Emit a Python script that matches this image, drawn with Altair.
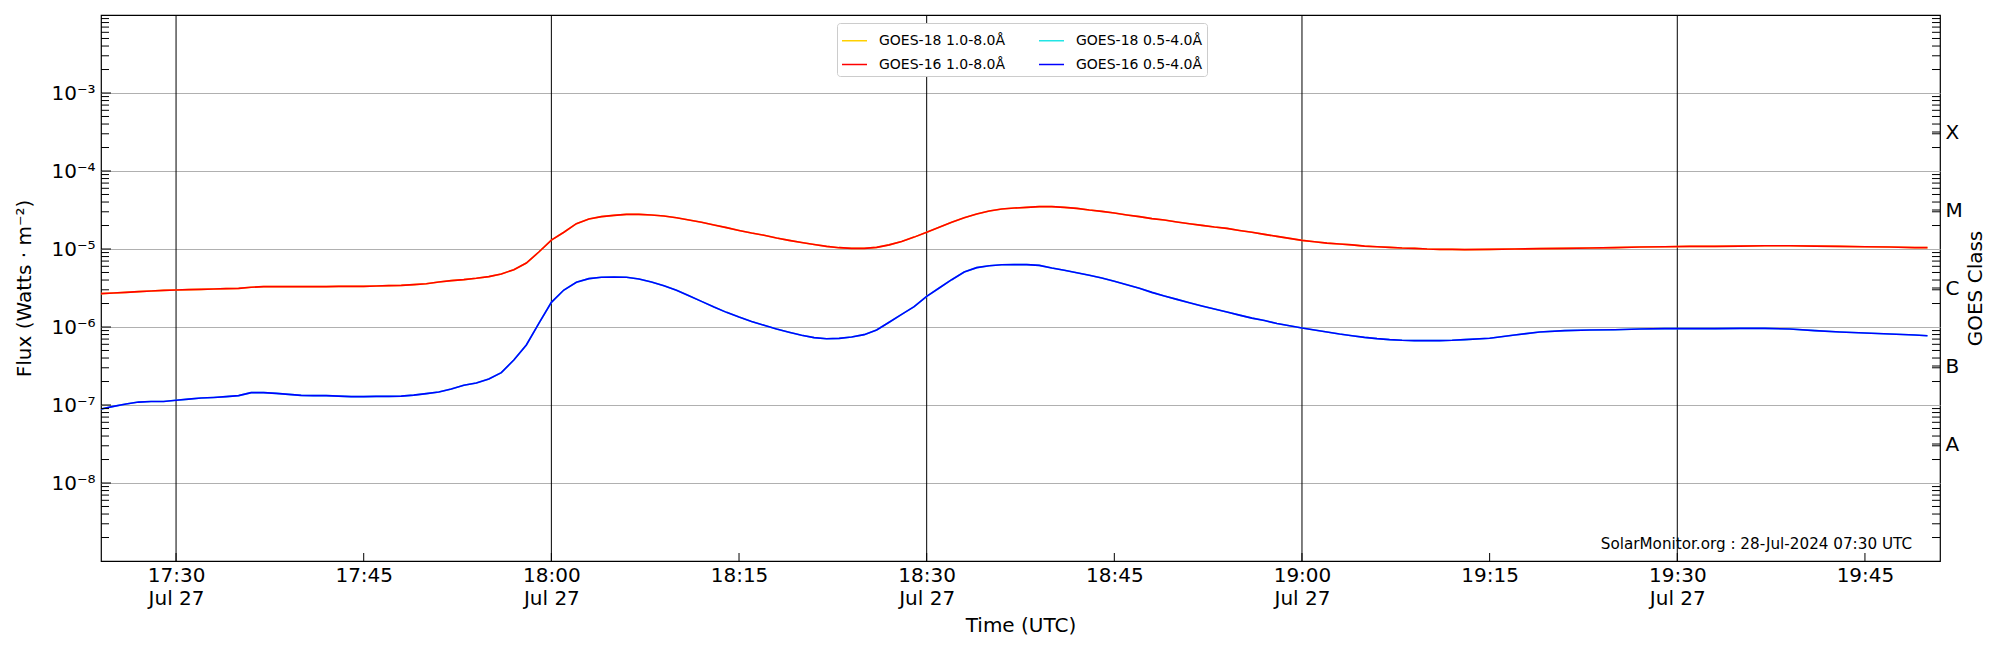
import altair as alt
import pandas as pd

# ---------------- data ----------------
TIMES = [
    "17:24", "17:25", "17:26", "17:27", "17:28", "17:29", "17:30", "17:31", "17:32", "17:33",
    "17:34", "17:35", "17:36", "17:37", "17:38", "17:39", "17:40", "17:41", "17:42", "17:43",
    "17:44", "17:45", "17:46", "17:47", "17:48", "17:49", "17:50", "17:51", "17:52", "17:53",
    "17:54", "17:55", "17:56", "17:57", "17:58", "17:59",
    "18:00", "18:01", "18:02", "18:03", "18:04", "18:05", "18:06", "18:07", "18:08", "18:09",
    "18:10", "18:11", "18:12", "18:13", "18:14", "18:15", "18:16", "18:17", "18:18", "18:19",
    "18:20", "18:21", "18:22", "18:23", "18:24", "18:25", "18:26", "18:27", "18:28", "18:29",
    "18:30", "18:31", "18:32", "18:33", "18:34", "18:35", "18:36", "18:37", "18:38", "18:39",
    "18:40", "18:41", "18:42", "18:43", "18:44", "18:45", "18:46", "18:47", "18:48", "18:49",
    "18:50", "18:51", "18:52", "18:53", "18:54", "18:55", "18:56", "18:57", "18:58", "18:59",
    "19:00", "19:01", "19:02", "19:03", "19:04", "19:05", "19:06", "19:07", "19:08", "19:09",
    "19:10", "19:11", "19:12", "19:13",
    "19:15", "19:17", "19:19", "19:21", "19:23", "19:25", "19:27", "19:29", "19:31", "19:33",
    "19:35", "19:37", "19:39", "19:41", "19:43", "19:45", "19:47", "19:49", "19:50",
]

# GOES-16 1.0-8.0 A (W/m^2)
G16_LONG = [
    2.68e-6, 2.73e-6, 2.78e-6, 2.84e-6, 2.89e-6, 2.95e-6, 2.98e-6, 3.01e-6, 3.04e-6, 3.07e-6,
    3.10e-6, 3.13e-6, 3.23e-6, 3.29e-6, 3.29e-6, 3.29e-6, 3.29e-6, 3.29e-6, 3.29e-6, 3.32e-6,
    3.32e-6, 3.32e-6, 3.35e-6, 3.39e-6, 3.42e-6, 3.49e-6, 3.59e-6, 3.78e-6, 3.93e-6, 4.05e-6,
    4.21e-6, 4.42e-6, 4.78e-6, 5.43e-6, 6.61e-6, 9.15e-6,
    1.30e-5, 1.64e-5, 2.11e-5, 2.42e-5, 2.60e-5, 2.70e-5, 2.78e-5, 2.78e-5, 2.73e-5, 2.65e-5,
    2.52e-5, 2.35e-5, 2.20e-5, 2.03e-5, 1.88e-5, 1.73e-5, 1.60e-5, 1.50e-5, 1.38e-5, 1.29e-5,
    1.21e-5, 1.14e-5, 1.08e-5, 1.04e-5, 1.02e-5, 1.02e-5, 1.05e-5, 1.13e-5, 1.25e-5, 1.42e-5,
    1.64e-5, 1.90e-5, 2.20e-5, 2.52e-5, 2.81e-5, 3.07e-5, 3.26e-5, 3.35e-5, 3.42e-5, 3.49e-5,
    3.49e-5, 3.42e-5, 3.32e-5, 3.16e-5, 3.04e-5, 2.89e-5, 2.73e-5, 2.60e-5, 2.45e-5, 2.35e-5,
    2.22e-5, 2.11e-5, 2.01e-5, 1.91e-5, 1.84e-5, 1.73e-5, 1.64e-5, 1.54e-5, 1.45e-5, 1.37e-5,
    1.29e-5, 1.24e-5, 1.19e-5, 1.16e-5, 1.13e-5, 1.09e-5, 1.07e-5, 1.05e-5, 1.03e-5, 1.02e-5,
    1.00e-5, 9.90e-6, 9.90e-6, 9.81e-6,
    9.90e-6, 1.00e-5, 1.01e-5, 1.02e-5, 1.03e-5, 1.04e-5, 1.06e-5, 1.07e-5, 1.08e-5, 1.08e-5,
    1.09e-5, 1.10e-5, 1.10e-5, 1.09e-5, 1.08e-5, 1.07e-5, 1.06e-5, 1.04e-5, 1.04e-5,
]

# GOES-16 0.5-4.0 A (W/m^2)
G16_SHORT = [
    8.89e-8, 9.61e-8, 1.03e-7, 1.09e-7, 1.11e-7, 1.11e-7, 1.15e-7, 1.19e-7, 1.23e-7, 1.25e-7,
    1.28e-7, 1.32e-7, 1.44e-7, 1.44e-7, 1.41e-7, 1.37e-7, 1.33e-7, 1.32e-7, 1.32e-7, 1.30e-7,
    1.28e-7, 1.28e-7, 1.29e-7, 1.29e-7, 1.30e-7, 1.34e-7, 1.40e-7, 1.47e-7, 1.60e-7, 1.79e-7,
    1.91e-7, 2.15e-7, 2.60e-7, 3.78e-7, 5.88e-7, 1.11e-6,
    2.07e-6, 2.98e-6, 3.74e-6, 4.17e-6, 4.34e-6, 4.38e-6, 4.34e-6, 4.12e-6, 3.77e-6, 3.39e-6,
    2.95e-6, 2.52e-6, 2.13e-6, 1.80e-6, 1.54e-6, 1.34e-6, 1.18e-6, 1.05e-6, 9.42e-7, 8.55e-7,
    7.82e-7, 7.30e-7, 7.08e-7, 7.15e-7, 7.45e-7, 7.98e-7, 9.16e-7, 1.15e-6, 1.45e-6, 1.82e-6,
    2.47e-6, 3.16e-6, 4.04e-6, 5.07e-6, 5.77e-6, 6.11e-6, 6.29e-6, 6.30e-6, 6.30e-6, 6.17e-6,
    5.71e-6, 5.33e-6, 4.97e-6, 4.60e-6, 4.25e-6, 3.85e-6, 3.49e-6, 3.13e-6, 2.78e-6, 2.50e-6,
    2.26e-6, 2.05e-6, 1.86e-6, 1.70e-6, 1.56e-6, 1.42e-6, 1.30e-6, 1.21e-6, 1.11e-6, 1.04e-6,
    9.71e-7, 9.15e-7, 8.63e-7, 8.13e-7, 7.74e-7, 7.37e-7, 7.09e-7, 6.88e-7, 6.75e-7, 6.68e-7,
    6.68e-7, 6.68e-7, 6.75e-7, 6.88e-7,
    7.16e-7, 7.90e-7, 8.63e-7, 8.98e-7, 9.15e-7, 9.24e-7, 9.43e-7, 9.52e-7, 9.52e-7, 9.52e-7,
    9.61e-7, 9.61e-7, 9.43e-7, 8.98e-7, 8.63e-7, 8.38e-7, 8.13e-7, 7.90e-7, 7.74e-7,
]

# GOES-18 traces lie exactly underneath the GOES-16 ones at this scale
G18_LONG = G16_LONG
G18_SHORT = G16_SHORT

G18L, G18S = "GOES-18 1.0-8.0Å", "GOES-18 0.5-4.0Å"
G16L, G16S = "GOES-16 1.0-8.0Å", "GOES-16 0.5-4.0Å"
# legend order (filled column by column)
SERIES = [G18L, G16L, G18S, G16S]
COLORS = ["#ffd000", "#ff0000", "#22e5e5", "#0000ff"]

DATE = "2024-07-27"
X_START, X_END = "17:24", "19:51"
TICK_TIMES = ["17:30", "17:45", "18:00", "18:15", "18:30", "18:45", "19:00", "19:15", "19:30", "19:45"]
GRID_TIMES = ["17:30", "18:00", "18:30", "19:00", "19:30"]

Y_MIN, Y_MAX = 1e-9, 1e-2
DECADES = [1e-8, 1e-7, 1e-6, 1e-5, 1e-4, 1e-3]
MINOR = [k * 10.0 ** e for e in range(-9, -2) for k in range(2, 10)]
CLASS_POS = [10 ** -7.5, 10 ** -6.5, 10 ** -5.5, 10 ** -4.5, 10 ** -3.5]
CLASS_LABELS = ["A", "B", "C", "M", "X"]

ANNOTATION = "SolarMonitor.org : 28-Jul-2024 07:30 UTC"

# ---------------- build chart ----------------
W, H = 1839, 546
FONT = "DejaVu Sans"
FS = 20


def iso(hm):
    return f"{DATE}T{hm}:00Z"


def ms(hm):
    return int(pd.Timestamp(iso(hm)).value // 10 ** 6)


rows = []
for name, vals in [(G18L, G18_LONG), (G18S, G18_SHORT), (G16L, G16_LONG), (G16S, G16_SHORT)]:
    for t, v in zip(TIMES, vals):
        rows.append({"t": iso(t), "flux": v, "series": name})
lines_df = pd.DataFrame(rows)

xs = alt.Scale(type="utc", domain=[ms(X_START), ms(X_END)])
ys = alt.Scale(type="log", domain=[Y_MIN, Y_MAX])
color_scale = alt.Scale(domain=SERIES, range=COLORS)

sup = "['⁰','¹','²','³','⁴','⁵','⁶','⁷','⁸','⁹']"
y_label_expr = f"'10⁻' + {sup}[round(-log(datum.value)/LN10)]"
x_label_expr = (
    "(utcminutes(datum.value) % 30 == 0) ? "
    "[utcFormat(datum.value, '%H:%M'), utcFormat(datum.value, '%b %d')] : "
    "utcFormat(datum.value, '%H:%M')"
)
class_expr = "['" + "','".join(CLASS_LABELS) + "'][round(7.5 + log(datum.value)/LN10)]"

x_axis = alt.Axis(
    values=[ms(t) for t in TICK_TIMES], labelExpr=x_label_expr, title="Time (UTC)",
    ticks=False, grid=False, domain=False, labelPadding=4, labelFontSize=FS,
    labelLineHeight=23, titleFontSize=FS, labelFlush=False,
    labelOverlap=False, labelColor="black", titleColor="black", titleFontWeight="normal",
    titleX=W / 2, titleY=64, titleBaseline="middle", titleAlign="center",
)
y_axis = alt.Axis(
    orient="left", values=DECADES, labelExpr=y_label_expr, title="Flux (Watts · m⁻²)",
    ticks=False, grid=True, gridColor="#b0b0b0", gridWidth=1, domain=False,
    labelPadding=6, labelFontSize=FS, titleFontSize=FS,
    labelColor="black", titleColor="black", titleFontWeight="normal",
    titleX=-77, titleY=H / 2, titleAngle=270, titleBaseline="middle", titleAlign="center",
)
right_axis = alt.Axis(
    orient="right", values=CLASS_POS, labelExpr=class_expr, title="GOES Class",
    ticks=False, grid=False, domain=False, labelPadding=5, labelFontSize=FS,
    titleFontSize=FS, labelColor="black", titleColor="black", titleFontWeight="normal",
    titleX=35, titleY=H / 2, titleAngle=270, titleBaseline="middle", titleAlign="center",
)

legend = alt.Legend(
    orient="none", legendX=736, legendY=8, columns=2, title=None,
    symbolType="stroke", symbolSize=625, symbolStrokeWidth=1.5,
    labelFontSize=14, labelOffset=11, columnPadding=30, rowPadding=3,
    padding=4, strokeColor="#cccccc", fillColor="white", cornerRadius=3,
    labelLimit=0, labelColor="black",
)

grid_df = pd.DataFrame({"t": [iso(t) for t in GRID_TIMES]})
vlines = alt.Chart(grid_df).mark_rule(color="black", strokeWidth=1).encode(
    x=alt.X("t:T", scale=xs, axis=x_axis)
)

g18 = alt.Chart(lines_df).transform_filter(
    alt.FieldOneOfPredicate(field="series", oneOf=[G18L, G18S])
).mark_line(strokeWidth=1.6, clip=True).encode(
    x=alt.X("t:T", scale=xs, axis=x_axis),
    y=alt.Y("flux:Q", scale=ys, axis=y_axis),
    color=alt.Color("series:N", scale=color_scale, legend=legend),
)
g16 = alt.Chart(lines_df).transform_filter(
    alt.FieldOneOfPredicate(field="series", oneOf=[G16L, G16S])
).mark_line(strokeWidth=1.6, clip=True).encode(
    x=alt.X("t:T", scale=xs, axis=x_axis),
    y=alt.Y("flux:Q", scale=ys, axis=None),
    color=alt.Color("series:N", scale=color_scale, legend=legend),
)

major_df = pd.DataFrame({"v": DECADES})
minor_df = pd.DataFrame({"v": MINOR})
left_major = alt.Chart(major_df).mark_rule(color="black", strokeWidth=1).encode(
    y=alt.Y("v:Q", scale=ys, axis=None), x=alt.value(0), x2=alt.value(10)
)
left_minor = alt.Chart(minor_df).mark_rule(color="black", strokeWidth=1).encode(
    y=alt.Y("v:Q", scale=ys, axis=None), x=alt.value(0), x2=alt.value(8)
)
right_minor = alt.Chart(minor_df).mark_rule(color="black", strokeWidth=1).encode(
    y=alt.Y("v:Q", scale=ys, axis=None), x=alt.value(W - 8), x2=alt.value(W)
)
class_df = pd.DataFrame({"v": CLASS_POS, "cls": CLASS_LABELS})
right_major = alt.Chart(class_df).mark_rule(color="black", strokeWidth=1).encode(
    y=alt.Y("v:Q", scale=ys, axis=right_axis), x=alt.value(W - 8), x2=alt.value(W)
)
xtick_df = pd.DataFrame({"t": [iso(t) for t in TICK_TIMES]})
bottom_ticks = alt.Chart(xtick_df).mark_rule(color="black", strokeWidth=1).encode(
    x=alt.X("t:T", scale=xs, axis=x_axis), y=alt.value(H - 8), y2=alt.value(H)
)
annot = alt.Chart(pd.DataFrame({"label": [ANNOTATION]})).mark_text(
    align="right", baseline="alphabetic", fontSize=15.2, font=FONT, color="black"
).encode(text="label:N", x=alt.value(W - 28), y=alt.value(H - 12))

chart = alt.layer(
    vlines, g18, g16, left_major, left_minor, right_minor, right_major, bottom_ticks, annot
).resolve_axis(y="independent").properties(
    width=W, height=H,
    autosize=alt.AutoSizeParams(type="none"),
    padding={"left": 93, "top": 7, "right": 52, "bottom": 80},
    background="white",
).configure(font=FONT).configure_view(stroke="black", strokeWidth=1.2)

chart.save("out.html", embed_options={"renderer": "svg", "actions": False})
